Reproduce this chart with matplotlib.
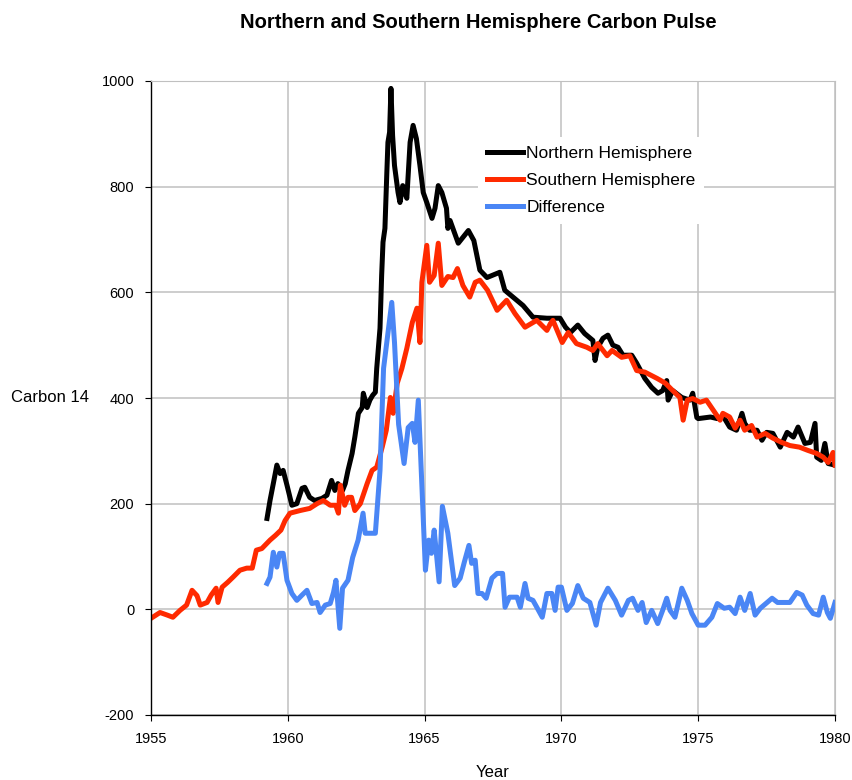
import matplotlib
matplotlib.use("Agg")
import matplotlib.pyplot as plt

plt.rcParams['font.family'] = ['Liberation Sans', 'DejaVu Sans']
plt.rcParams['axes.unicode_minus'] = False

# Southern hemisphere
south_year = [1955.0, 1955.33, 1955.6, 1955.8, 1956.06, 1956.3, 1956.5, 1956.68, 1956.8, 1957.05,
              1957.2, 1957.38, 1957.45, 1957.6, 1957.8, 1958.0, 1958.25, 1958.5, 1958.7, 1958.85,
              1959.05, 1959.35, 1959.55, 1959.75, 1959.9, 1960.08, 1960.45, 1960.8, 1961.07, 1961.3,
              1961.55, 1961.75, 1961.85, 1961.92, 1962.08, 1962.2, 1962.33, 1962.45, 1962.65, 1962.9,
              1963.08, 1963.25, 1963.45, 1963.6, 1963.75, 1963.85, 1964.0, 1964.17, 1964.35, 1964.55,
              1964.72, 1964.83, 1964.9, 1965.08, 1965.18, 1965.35, 1965.5, 1965.63, 1965.85, 1966.04,
              1966.2, 1966.4, 1966.65, 1966.85, 1967.02, 1967.3, 1967.65, 1968.0, 1968.3, 1968.67,
              1969.1, 1969.47, 1969.6, 1969.69, 1970.03, 1970.25, 1970.55, 1970.93, 1971.15, 1971.33,
              1971.67, 1971.85, 1972.2, 1972.5, 1972.75, 1973.05, 1973.5, 1973.8, 1974.07, 1974.33,
              1974.45, 1974.6, 1974.8, 1975.07, 1975.3, 1975.55, 1975.8, 1975.9, 1976.15, 1976.35,
              1976.53, 1976.7, 1976.95, 1977.15, 1977.45, 1977.73, 1978.05, 1978.35, 1978.7, 1979.0,
              1979.33, 1979.57, 1979.75, 1979.93, 1980.0]
south_c14 = [-17, -6, -11, -15, -2, 8, 36, 26, 8, 13,
             27, 40, 13, 42, 51, 61, 74, 78, 78, 112,
             115, 131, 140, 150, 168, 182, 187, 191, 200, 206,
             197, 197, 182, 235, 197, 212, 212, 187, 200, 238,
             263, 269, 307, 339, 401, 371, 428, 456, 494, 543,
             570, 505, 619, 689, 619, 632, 693, 613, 630, 628,
             645, 613, 591, 619, 623, 604, 566, 585, 560, 534,
             547, 528, 541, 547, 505, 524, 503, 496, 490, 503,
             480, 490, 477, 480, 452, 449, 437, 428, 414, 401,
             358, 396, 399, 392, 396, 377, 358, 371, 364, 343,
             358, 339, 348, 326, 333, 324, 316, 310, 307, 301,
             295, 288, 278, 297, 273]

# Northern hemisphere
north_year = [1959.24, 1959.35, 1959.47, 1959.6, 1959.72, 1959.83, 1959.97, 1960.15, 1960.33, 1960.52,
              1960.62, 1960.8, 1960.98, 1961.25, 1961.43, 1961.6, 1961.72, 1961.83, 1962.0, 1962.1,
              1962.2, 1962.35, 1962.45, 1962.58, 1962.72, 1962.76, 1962.9, 1963.0, 1963.1, 1963.2,
              1963.25, 1963.37, 1963.43, 1963.48, 1963.55, 1963.62, 1963.66, 1963.72, 1963.77, 1963.83,
              1963.9, 1964.03, 1964.1, 1964.2, 1964.35, 1964.47, 1964.58, 1964.7, 1964.83, 1964.95,
              1965.08, 1965.27, 1965.38, 1965.5, 1965.63, 1965.8, 1965.85, 1965.93, 1966.23, 1966.6,
              1966.8, 1967.02, 1967.28, 1967.75, 1967.93, 1968.23, 1968.6, 1968.96, 1969.47, 1969.95,
              1970.15, 1970.33, 1970.6, 1970.85, 1971.15, 1971.23, 1971.33, 1971.52, 1971.7, 1971.88,
              1972.07, 1972.25, 1972.57, 1972.75, 1973.05, 1973.3, 1973.53, 1973.7, 1973.85, 1973.9,
              1974.07, 1974.4, 1974.7, 1974.8, 1974.95, 1975.0, 1975.45, 1975.7, 1975.93, 1976.15,
              1976.4, 1976.6, 1976.7, 1976.88, 1977.15, 1977.33, 1977.5, 1977.73, 1978.0, 1978.25,
              1978.48, 1978.65, 1978.9, 1979.1, 1979.27, 1979.33, 1979.5, 1979.63, 1979.75, 1980.0]
north_c14 = [172, 206, 238, 273, 257, 263, 235, 197, 200, 229,
             231, 212, 206, 210, 216, 244, 225, 238, 225, 238,
             263, 295, 326, 371, 382, 409, 382, 396, 405, 411,
             456, 532, 632, 695, 721, 827, 884, 903, 986, 897,
             840, 789, 770, 802, 778, 884, 916, 891, 840, 789,
             770, 740, 759, 802, 789, 759, 721, 736, 693, 717,
             698, 642, 628, 638, 604, 591, 575, 553, 551, 551,
             534, 524, 538, 522, 509, 471, 496, 513, 519, 500,
             496, 481, 481, 466, 437, 420, 409, 414, 433, 396,
             414, 401, 396, 409, 363, 361, 364, 361, 364, 345,
             339, 371, 352, 339, 339, 320, 335, 333, 307, 335,
             326, 345, 314, 316, 352, 288, 282, 314, 276, 273]

# Difference north - south
diff_year = [1959.24, 1959.35, 1959.47, 1959.6, 1959.7, 1959.83, 1959.97, 1960.15, 1960.33, 1960.52,
             1960.7, 1960.88, 1961.07, 1961.18, 1961.37, 1961.55, 1961.67, 1961.76, 1961.9, 1962.0,
             1962.2, 1962.37, 1962.57, 1962.75, 1962.83, 1963.2, 1963.37, 1963.5, 1963.8, 1963.9,
             1964.05, 1964.25, 1964.4, 1964.55, 1964.65, 1964.77, 1965.03, 1965.15, 1965.25, 1965.35,
             1965.53, 1965.65, 1965.85, 1966.1, 1966.3, 1966.45, 1966.62, 1966.72, 1966.85, 1966.95,
             1967.1, 1967.25, 1967.46, 1967.65, 1967.85, 1967.94, 1968.1, 1968.38, 1968.5, 1968.67,
             1968.78, 1968.96, 1969.1, 1969.3, 1969.47, 1969.65, 1969.77, 1969.88, 1970.0, 1970.2,
             1970.4, 1970.6, 1970.8, 1971.04, 1971.27, 1971.43, 1971.7, 1971.97, 1972.2, 1972.45,
             1972.6, 1972.8, 1972.95, 1973.1, 1973.3, 1973.52, 1973.7, 1973.85, 1973.97, 1974.15,
             1974.4, 1974.6, 1974.77, 1975.0, 1975.25, 1975.5, 1975.7, 1975.95, 1976.15, 1976.35,
             1976.53, 1976.7, 1976.9, 1977.08, 1977.27, 1977.52, 1977.7, 1977.9, 1978.35, 1978.6,
             1978.8, 1978.97, 1979.2, 1979.4, 1979.57, 1979.72, 1979.83, 1980.0]
diff_c14 = [49, 61, 108, 80, 106, 106, 55, 30, 17, 27,
            36, 11, 13, -6, 8, 11, 32, 55, -36, 40,
            55, 98, 131, 182, 144, 144, 263, 456, 581, 505,
            350, 276, 344, 352, 316, 396, 74, 131, 106, 150,
            52, 195, 144, 45, 59, 89, 121, 87, 93, 30,
            30, 21, 59, 68, 68, 4, 23, 23, 4, 49,
            21, 17, 4, -15, 30, 30, -2, 42, 42, -2,
            11, 45, 21, 13, -30, 13, 40, 17, -11, 17,
            21, -2, 13, -25, -2, -27, -2, 21, -2, -15,
            40, 17, -8, -30, -30, -15, 11, 2, 4, -8,
            23, -2, 30, -11, 2, 13, 21, 13, 13, 32,
            27, 8, -8, -11, 23, -6, -17, 13]

fig = plt.figure(figsize=(8.53, 7.8), dpi=100)
ax = fig.add_axes([151 / 853, 1 - 715 / 780, 684 / 853, 634 / 780])

ax.plot(north_year, north_c14, color='black', lw=3.6, label='Northern Hemisphere')
ax.plot(south_year, south_c14, color='#ff2a00', lw=3.6, label='Southern Hemisphere')
ax.plot(diff_year, diff_c14, color='#4a86f5', lw=3.6, label='Difference')

ax.set_xlim(1955, 1980)
ax.set_ylim(-200, 1000)
ax.set_xticks(range(1955, 1981, 5))
ax.set_yticks(range(-200, 1001, 200))
ax.grid(True, color='#c0c0c0', lw=1.1)
ax.set_axisbelow(True)
for side in ['top', 'right']:
    ax.spines[side].set_color('#c0c0c0')
for side in ['left', 'bottom']:
    ax.spines[side].set_color('black')
    ax.spines[side].set_linewidth(1.0)
ax.tick_params(axis='both', labelsize=10.5, length=4, direction='out', pad=8)

ax.set_xlabel('Year', fontsize=12)
ax.xaxis.label.set_va('center')
ax.xaxis.set_label_coords(0.5, -0.09)
ax.set_ylabel('Carbon 14', fontsize=12, rotation=0, ha='center', va='center')
ax.yaxis.set_label_coords(-0.148, 0.5)

fig.text(478 / 853, 1 - 22 / 780, 'Northern and Southern Hemisphere Carbon Pulse',
         ha='center', va='center', fontsize=14.5, fontweight='bold')

leg = ax.legend(loc='upper left', bbox_to_anchor=(0.466, 0.925), frameon=True, fontsize=12.5,
                handlelength=2.05, handletextpad=0.2, labelspacing=0.68, borderpad=0.5)
leg.get_frame().set_edgecolor('none')
leg.get_frame().set_facecolor('white')
leg.get_frame().set_alpha(1.0)

fig.savefig('out.png', dpi=100)
